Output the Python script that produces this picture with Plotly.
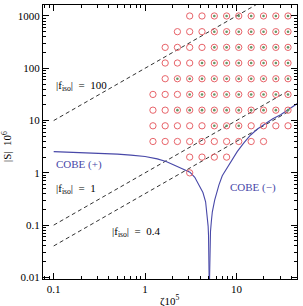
import plotly.graph_objects as go
import math

# ---- data ----
grid_zeta = [1.22, 1.66, 2.26, 3.08, 4.20, 5.73, 7.81, 10.6, 14.5, 19.8, 27.0, 36.7]
grid_S = [1000, 501, 251, 126, 63.1, 31.6, 15.8, 7.94, 3.98, 2.0, 1.0]
# per row: '.' no point, 'o' open circle, 'd' circle with dot
grid_pattern = [
    "...ooddddddd",
    "..oooddddddd",
    ".ooooddddddd",
    ".ooodddddddd",
    ".odddddddddd",
    "oooddddddddd",
    "oodddddddddd",
    "ooooodddoooo",
    "oooooooooo..",
    "...oooo.....",
    "...o........",
]

cobe_plus_zeta = [0.1, 0.2, 0.325, 0.5, 0.7, 1.0, 1.36, 1.7, 2.07, 2.5, 3.1, 3.5, 3.89, 4.3, 4.6, 4.8, 4.9, 4.95, 5.0, 5.03, 5.045]
cobe_plus_S = [2.55, 2.46, 2.38, 2.28, 2.18, 2.06, 1.85, 1.65, 1.42, 1.22, 1.03, 0.82, 0.59, 0.42, 0.28, 0.16, 0.096, 0.064, 0.032, 0.013, 0.006]
cobe_minus_zeta = [5.055, 5.08, 5.12, 5.2, 5.32, 5.45, 5.78, 6.1, 6.44, 7.0, 7.83, 9.0, 10.2, 12.0, 14.3, 17.0, 20.1, 25.0, 30.5, 38.0, 48.0]
cobe_minus_S = [0.006, 0.016, 0.04, 0.075, 0.12, 0.18, 0.30, 0.44, 0.59, 0.88, 1.23, 1.85, 2.55, 3.7, 5.3, 6.9, 8.5, 10.8, 12.9, 17.0, 22.0]

f_iso_values = [100, 1, 0.4]
f_iso_zeta_ends = [0.1, 37.0]

x_tick_vals = [0.1, 1, 10]
x_tick_text = ["0.1", "1", "10"]
y_tick_vals = [0.01, 0.1, 1, 10, 100, 1000]
y_tick_text = ["0.01", "0.1", "1", "10", "100", "1000"]

# ---- build ----
RED = "rgb(232,100,106)"
GREEN = "rgb(100,150,100)"
BLUE = "rgb(72,72,168)"
FONT = "Liberation Serif"

fig = go.Figure()

for f in f_iso_values:
    fig.add_trace(go.Scatter(
        x=f_iso_zeta_ends, y=[f * z for z in f_iso_zeta_ends], mode="lines",
        line=dict(color="rgb(50,50,50)", width=1, dash="4px,3px"),
        hoverinfo="skip", showlegend=False))

fig.add_trace(go.Scatter(x=cobe_plus_zeta, y=cobe_plus_S, mode="lines",
                         line=dict(color=BLUE, width=1.1), showlegend=False))
fig.add_trace(go.Scatter(x=cobe_minus_zeta, y=cobe_minus_S, mode="lines",
                         line=dict(color=BLUE, width=1.1), showlegend=False))

ox, oy, dx, dy = [], [], [], []
for r, row in enumerate(grid_pattern):
    for c, ch in enumerate(row):
        if ch in "od":
            ox.append(grid_zeta[c]); oy.append(grid_S[r])
        if ch == "d":
            dx.append(grid_zeta[c]); dy.append(grid_S[r])

fig.add_trace(go.Scatter(x=ox, y=oy, mode="markers",
                         marker=dict(symbol="circle-open", size=6.3, color=RED, line=dict(width=1, color=RED)),
                         showlegend=False))
fig.add_trace(go.Scatter(x=dx, y=dy, mode="markers",
                         marker=dict(symbol="circle", size=2.6, color=GREEN),
                         showlegend=False))

minor_x = [m * 10 ** e for e in (-2, -1, 0, 1) for m in range(2, 10)]
minor_y = [m * 10 ** e for e in (-3, -2, -1, 0, 1, 2, 3) for m in range(2, 10)]

axis_common = dict(type="log", showline=True, linecolor="black", linewidth=1,
                   mirror="allticks", ticks="inside", ticklen=6, tickwidth=1,
                   tickcolor="black", showgrid=False, zeroline=False,
                   tickfont=dict(family=FONT, size=11, color="black"))

fig.update_xaxes(range=[-1.117, 1.663], tickmode="array", tickvals=x_tick_vals, ticktext=x_tick_text,
                 minor=dict(ticks="inside", ticklen=3, tickcolor="black", tickmode="array", tickvals=minor_x, showgrid=False),
                 **axis_common)
fig.update_yaxes(range=[-2.03, 3.21], tickmode="array", tickvals=y_tick_vals, ticktext=y_tick_text,
                 minor=dict(ticks="inside", ticklen=3, tickcolor="black", tickmode="array", tickvals=minor_y, showgrid=False),
                 **axis_common)


def ann(z, s, text, color="black"):
    fig.add_annotation(x=math.log10(z), y=math.log10(s), xref="x", yref="y", text=text,
                       showarrow=False, xanchor="left", yanchor="middle",
                       font=dict(family=FONT, size=11, color=color))


ann(0.1, 46, "|f<sub>iso</sub>|&nbsp; = &nbsp;100")
ann(0.1, 0.49, "|f<sub>iso</sub>|&nbsp; = &nbsp;1")
ann(0.418, 0.075, "|f<sub>iso</sub>|&nbsp; = &nbsp;0.4")
ann(0.1, 1.42, "COBE (+)", BLUE)
ann(8.17, 0.52, "COBE (−)", BLUE)

fig.add_annotation(x=0.5, y=-0.077, xref="paper", yref="paper", text="ζ10<sup>5</sup>",
                   showarrow=False, xanchor="center", yanchor="middle",
                   font=dict(family=FONT, size=11, color="black"))
fig.add_annotation(x=-0.142, y=0.485, xref="paper", yref="paper", text="|S|&nbsp; 10<sup>6</sup>",
                   showarrow=False, xanchor="center", yanchor="middle", textangle=-90,
                   font=dict(family=FONT, size=11, color="black"))

fig.update_layout(width=303, height=306, margin=dict(l=43, r=6, t=5, b=27),
                  plot_bgcolor="white", paper_bgcolor="white", showlegend=False)

fig.write_html("out.html")
